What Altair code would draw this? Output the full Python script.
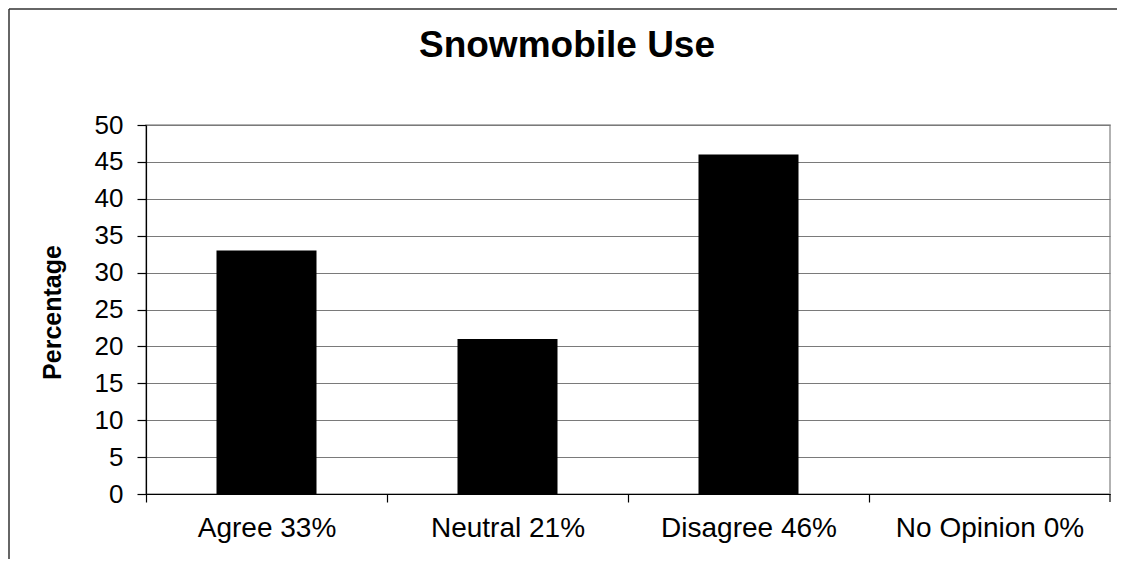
import altair as alt
import pandas as pd

categories = ["Agree 33%", "Neutral 21%", "Disagree 46%", "No Opinion 0%"]
values = [33, 21, 46, 0]
y_ticks = [0, 5, 10, 15, 20, 25, 30, 35, 40, 45, 50]
title_text = "Snowmobile Use"
y_title = "Percentage"

df = pd.DataFrame({"category": categories, "value": values})

FONT = "Liberation Sans"
W, H = 964, 369
PL, PT, PR, PB = 138, 117, 7, 65
STEP = W / len(categories)

bars = alt.Chart(df).mark_bar(color="black", strokeWidth=0).encode(
    x=alt.X(
        "category:N",
        sort=categories,
        scale=alt.Scale(paddingInner=0.585, paddingOuter=0.2925),
        axis=alt.Axis(
            title=None,
            labelAngle=0,
            labelFontSize=28,
            labelFont=FONT,
            labelColor="black",
            labelPadding=12,
            labelLimit=0,
            labelOffset=STEP / 2,
            ticks=True,
            tickOffset=-STEP / 2,
            tickSize=8,
            tickColor="black",
            tickWidth=1.2,
            domainColor="black",
            domainWidth=1.2,
            grid=False,
        ),
    ),
    y=alt.Y(
        "value:Q",
        scale=alt.Scale(domain=[0, 50], nice=False),
        axis=alt.Axis(
            title=y_title,
            values=y_ticks,
            labelFontSize=26,
            labelFont=FONT,
            labelColor="black",
            labelPadding=14,
            tickSize=9,
            tickColor="black",
            tickWidth=1.2,
            domainColor="black",
            domainWidth=1.2,
            gridColor="#7a7a7a",
            gridWidth=1.2,
            titleFont=FONT,
            titleFontSize=25,
            titleFontWeight="bold",
            titleColor="black",
            titleAngle=270,
            titleX=-94,
            titleY=187,
            titleBaseline="middle",
            titleAlign="center",
        ),
    ),
)

title_df = pd.DataFrame({"t": [title_text]})
title = alt.Chart(title_df).mark_text(
    font=FONT, fontSize=37, fontWeight="bold", color="black",
    align="center", baseline="alphabetic",
).encode(text="t:N", x=alt.value(421), y=alt.value(-68))

# closing tick at the right end of the category axis
end_tick = alt.Chart(title_df).mark_rule(color="black", strokeWidth=1.2).encode(
    x=alt.value(W), y=alt.value(H), y2=alt.value(H + 8)
)

# outer chart frame: left and top edges only are visible
frame_left = alt.Chart(title_df).mark_rule(color="#333333", strokeWidth=1.5).encode(
    x=alt.value(-PL + 1), y=alt.value(-PT + 1), y2=alt.value(H + PB)
)
frame_top = alt.Chart(title_df).mark_rule(color="#333333", strokeWidth=1.5).encode(
    x=alt.value(-PL + 1), x2=alt.value(W + PR), y=alt.value(-PT + 1)
)

chart = alt.layer(bars, title, end_tick, frame_left, frame_top).properties(
    width=W,
    height=H,
    autosize=alt.AutoSizeParams(type="none"),
    padding={"left": PL, "top": PT, "right": PR, "bottom": PB},
    background="white",
).configure_view(stroke="#999999", strokeWidth=1.5)

chart.save("out.html", embed_options={"renderer": "svg", "actions": False})
